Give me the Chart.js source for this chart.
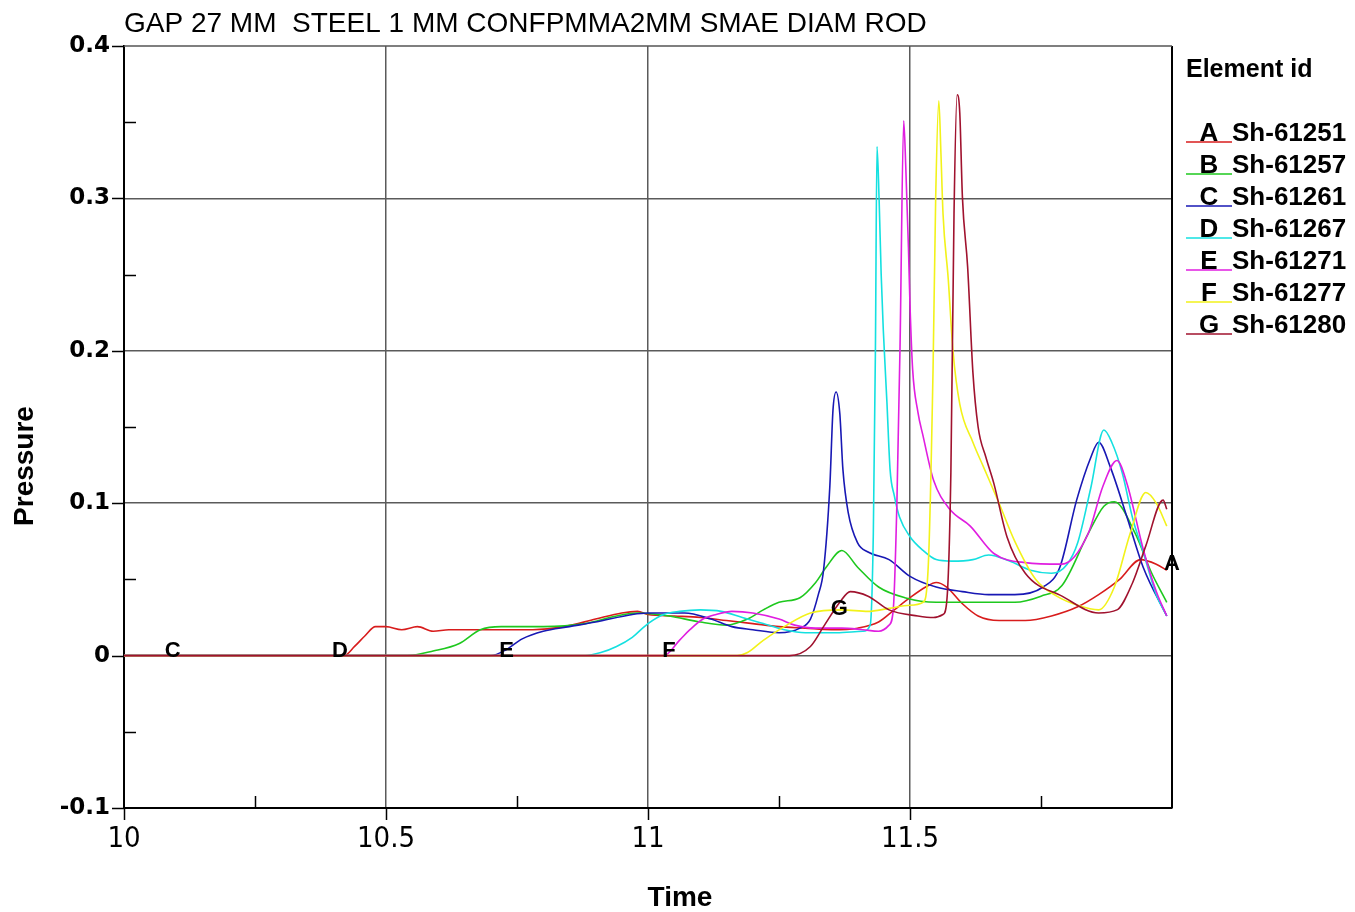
<!DOCTYPE html>
<html><head><meta charset="utf-8">
<script src="https://cdn.jsdelivr.net/npm/chart.js@4.4.1/dist/chart.umd.min.js"></script>
<style>html,body{margin:0;padding:0;background:#fff;}canvas{display:block;}</style>
</head><body>
<canvas id="c" width="1355" height="912"></canvas>
<script>
const titleText = "GAP 27 MM  STEEL 1 MM CONFPMMA2MM SMAE DIAM ROD";
const xTitle = "Time";
const yTitle = "Pressure";
const legendTitle = "Element id";
const seriesLetters = ["A","B","C","D","E","F","G"];
const seriesIds = ["Sh-61251","Sh-61257","Sh-61261","Sh-61267","Sh-61271","Sh-61277","Sh-61280"];
const seriesColors = ["#d81c1c","#1ec81e","#1818b4","#14e0e0","#e01ee0","#f2f21a","#a0122e"];
const xTickLabels = ["10","10.5","11","11.5"];
const yTickLabels = ["-0.1","0","0.1","0.2","0.3","0.4"];

const tA = [10,10.42,10.44,10.46,10.48,10.5,10.53,10.56,10.59,10.62,10.66,10.72,10.78,10.84,10.9,10.95,10.98,11.0,11.05,11.1,11.15,11.2,11.25,11.3,11.35,11.4,11.44,11.47,11.5,11.53,11.55,11.57,11.6,11.63,11.67,11.72,11.77,11.82,11.86,11.9,11.94,11.97,11.99];
const pA = [0,0,0.006,0.013,0.019,0.019,0.017,0.019,0.016,0.017,0.017,0.017,0.017,0.019,0.024,0.028,0.029,0.027,0.026,0.025,0.023,0.021,0.019,0.018,0.017,0.018,0.022,0.03,0.038,0.045,0.048,0.045,0.034,0.026,0.023,0.023,0.026,0.032,0.04,0.05,0.063,0.06,0.056];

const tB = [10,10.54,10.59,10.64,10.68,10.72,10.8,10.88,10.94,10.98,11.04,11.1,11.15,11.19,11.22,11.25,11.29,11.32,11.34,11.37,11.4,11.44,11.49,11.55,11.6,11.7,11.75,11.79,11.84,11.87,11.89,11.93,11.96,11.99];
const pB = [0,0,0.003,0.008,0.017,0.019,0.019,0.021,0.026,0.028,0.026,0.022,0.02,0.024,0.03,0.035,0.038,0.048,0.058,0.069,0.058,0.045,0.038,0.035,0.035,0.035,0.039,0.046,0.08,0.098,0.101,0.08,0.055,0.035];

const tC = [10,10.7,10.73,10.76,10.8,10.85,10.9,10.97,11.0,11.07,11.12,11.16,11.2,11.25,11.29,11.31,11.325,11.335,11.347,11.353,11.359,11.366,11.372,11.382,11.4,11.42,11.46,11.5,11.55,11.6,11.65,11.7,11.754,11.786,11.818,11.845,11.86,11.882,11.914,11.945,11.99];
const pC = [0,0,0.004,0.011,0.016,0.019,0.022,0.027,0.028,0.028,0.024,0.019,0.017,0.015,0.018,0.024,0.04,0.056,0.111,0.161,0.173,0.159,0.122,0.094,0.074,0.068,0.063,0.052,0.045,0.042,0.04,0.04,0.045,0.058,0.102,0.13,0.14,0.124,0.091,0.058,0.026];

const tD = [10,10.88,10.91,10.94,10.97,11.0,11.03,11.06,11.1,11.14,11.18,11.22,11.26,11.3,11.36,11.41,11.424,11.43,11.434,11.437,11.441,11.445,11.449,11.456,11.462,11.47,11.48,11.5,11.525,11.55,11.58,11.62,11.65,11.69,11.73,11.77,11.8,11.82,11.845,11.87,11.885,11.905,11.925,11.945,11.97,11.99];
const pD = [0,0,0.002,0.006,0.012,0.021,0.027,0.029,0.03,0.029,0.025,0.021,0.017,0.015,0.015,0.016,0.02,0.08,0.2,0.334,0.3,0.25,0.214,0.166,0.122,0.105,0.091,0.078,0.069,0.063,0.062,0.063,0.066,0.062,0.056,0.054,0.06,0.074,0.11,0.148,0.14,0.12,0.09,0.068,0.04,0.026];

const tE = [10,11.03,11.06,11.08,11.105,11.13,11.16,11.2,11.25,11.28,11.32,11.37,11.41,11.44,11.46,11.468,11.475,11.481,11.488,11.492,11.497,11.5,11.505,11.515,11.525,11.545,11.576,11.615,11.66,11.72,11.79,11.84,11.868,11.895,11.914,11.945,11.97,11.99];
const pE = [0,0,0.01,0.017,0.024,0.027,0.029,0.028,0.024,0.02,0.018,0.018,0.017,0.016,0.02,0.03,0.1,0.203,0.351,0.32,0.268,0.23,0.188,0.16,0.144,0.115,0.096,0.085,0.067,0.061,0.06,0.08,0.111,0.128,0.113,0.07,0.042,0.026];

const tF = [10,11.17,11.19,11.22,11.26,11.31,11.37,11.42,11.46,11.5,11.525,11.535,11.544,11.549,11.555,11.559,11.563,11.573,11.582,11.595,11.62,11.64,11.67,11.7,11.74,11.78,11.82,11.86,11.89,11.92,11.95,11.97,11.99];
const pF = [0,0,0.002,0.01,0.019,0.028,0.03,0.029,0.031,0.033,0.035,0.06,0.188,0.3,0.364,0.33,0.29,0.247,0.2,0.165,0.14,0.124,0.1,0.075,0.05,0.039,0.033,0.03,0.045,0.08,0.107,0.1,0.085];

const tG = [10,11.27,11.31,11.335,11.366,11.386,11.42,11.46,11.515,11.545,11.563,11.57,11.578,11.584,11.59,11.595,11.6,11.61,11.62,11.63,11.645,11.66,11.685,11.72,11.79,11.86,11.895,11.925,11.95,11.983,11.99];
const pG = [0,0,0.006,0.019,0.035,0.042,0.039,0.03,0.026,0.025,0.027,0.035,0.12,0.29,0.368,0.356,0.301,0.255,0.186,0.15,0.13,0.113,0.078,0.054,0.039,0.028,0.03,0.048,0.072,0.102,0.096];

const curveLabelLetters = ["C","D","E","F","G","A"];
const curveLabelT = [10.093,10.412,10.73,11.04,11.365,12.0];
const curveLabelP = [0.004,0.004,0.004,0.004,0.031,0.061];

const seriesT = [tA,tB,tC,tD,tE,tF,tG];
const seriesP = [pA,pB,pC,pD,pE,pF,pG];

const NARROW = "'Liberation Sans Narrow','Arial Narrow','DejaVu Sans Condensed',sans-serif";
const SANS = "'Liberation Sans',Arial,sans-serif";
const r2 = v => String(Math.round(v*100)/100);

const decorPlugin = {
  id: 'decor',
  afterDraw(chart) {
    const ctx = chart.ctx, a = chart.chartArea, xs = chart.scales.x, ys = chart.scales.y;
    ctx.save();
    ctx.strokeStyle = '#000'; ctx.lineWidth = 2;
    ctx.beginPath(); ctx.moveTo(a.right, a.top); ctx.lineTo(a.right, a.bottom); ctx.stroke();
    ctx.strokeStyle = '#555'; ctx.lineWidth = 1.5;
    ctx.beginPath(); ctx.moveTo(a.left, a.top); ctx.lineTo(a.right, a.top); ctx.stroke();
    ctx.strokeStyle = '#000'; ctx.lineWidth = 1.5;
    for (let i = -2; i <= 8; i++) {
      const v = i*0.05, y = Math.round(ys.getPixelForValue(v)) + 0.5;
      ctx.beginPath();
      if (i % 2 === 0) { ctx.moveTo(a.left - 12, y); ctx.lineTo(a.left, y); }
      else { ctx.moveTo(a.left, y); ctx.lineTo(a.left + 12, y); }
      ctx.stroke();
    }
    for (let i = 0; i < 8; i++) {
      const v = 10 + i*0.25, x = Math.round(xs.getPixelForValue(v)) + 0.5;
      ctx.beginPath();
      if (i % 2 === 0) { ctx.moveTo(x, a.bottom); ctx.lineTo(x, a.bottom + 12); }
      else { ctx.moveTo(x, a.bottom); ctx.lineTo(x, a.bottom - 12); }
      ctx.stroke();
    }
    ctx.fillStyle = '#000';
    ctx.font = "28px " + SANS;
    ctx.textAlign = 'left'; ctx.textBaseline = 'alphabetic';
    ctx.fillText(titleText, 124, 32);
    ctx.font = "bold 28px " + SANS;
    ctx.textAlign = 'center'; ctx.textBaseline = 'middle';
    ctx.fillText(xTitle, 680, 898);
    ctx.save(); ctx.translate(25, 466); ctx.rotate(-Math.PI/2);
    ctx.fillText(yTitle, 0, 0); ctx.restore();
    ctx.textBaseline = 'alphabetic'; ctx.textAlign = 'left';
    ctx.font = "bold 25px " + SANS;
    ctx.fillText(legendTitle, 1186, 77);
    for (let i = 0; i < seriesIds.length; i++) {
      const by = 141 + 32*i;
      ctx.strokeStyle = seriesColors[i]; ctx.lineWidth = 1.5;
      ctx.beginPath(); ctx.moveTo(1186, by + 1); ctx.lineTo(1232, by + 1); ctx.stroke();
      ctx.fillStyle = '#000';
      ctx.font = "bold 26px " + SANS;
      ctx.textAlign = 'center'; ctx.fillText(seriesLetters[i], 1209, by);
      ctx.textAlign = 'left'; ctx.fillText(seriesIds[i], 1232, by);
    }
    ctx.font = "bold 22px " + SANS;
    ctx.textAlign = 'center'; ctx.textBaseline = 'middle';
    for (let i = 0; i < curveLabelLetters.length; i++) {
      const x = xs.getPixelForValue(curveLabelT[i]);
      const y = ys.getPixelForValue(curveLabelP[i]);
      ctx.fillText(curveLabelLetters[i], x, y + 1);
    }
    ctx.restore();
  }
};

const datasets = seriesLetters.map((L, i) => ({
  label: L + ' ' + seriesIds[i],
  data: seriesT[i].map((t, j) => ({x: t, y: seriesP[i][j]})),
  borderColor: seriesColors[i],
  backgroundColor: seriesColors[i],
  borderWidth: 1.6,
  pointRadius: 0,
  cubicInterpolationMode: 'monotone',
  fill: false
}));

new Chart(document.getElementById('c'), {
  type: 'line',
  data: { datasets: datasets.slice().reverse() },
  options: {
    responsive: false,
    animation: false,
    layout: { padding: { top: 46, right: 183, left: 0, bottom: 0 } },
    plugins: { legend: { display: false }, tooltip: { enabled: false }, title: { display: false } },
    scales: {
      x: {
        type: 'linear', min: 10, max: 12,
        afterFit: s => { s.height = 104; },
        ticks: {
          stepSize: 0.25, autoSkip: false, maxRotation: 0, padding: 14,
          color: '#000', font: { family: NARROW, size: 29 },
          callback: v => xTickLabels.includes(r2(v)) ? r2(v) : ''
        },
        grid: {
          drawTicks: false,
          color: c => { const s = r2(c.tick.value); return (s === '10.5' || s === '11' || s === '11.5') ? '#5a5a5a' : 'rgba(0,0,0,0)'; },
          lineWidth: 1.5
        },
        border: { display: true, color: '#000', width: 2 }
      },
      y: {
        type: 'linear', min: -0.1, max: 0.4,
        afterFit: s => { s.width = 124; },
        ticks: {
          stepSize: 0.05, autoSkip: false, padding: 14,
          color: '#000', font: { family: "'DejaVu Sans',sans-serif", size: 23, weight: 'bold' },
          callback: v => yTickLabels.includes(r2(v)) ? r2(v) : ''
        },
        grid: {
          drawTicks: false,
          color: c => { const s = r2(c.tick.value); return (s === '0' || s === '0.1' || s === '0.2' || s === '0.3') ? '#5a5a5a' : 'rgba(0,0,0,0)'; },
          lineWidth: 1.5
        },
        border: { display: true, color: '#000', width: 2 }
      }
    }
  },
  plugins: [decorPlugin]
});
</script>
</body></html>
